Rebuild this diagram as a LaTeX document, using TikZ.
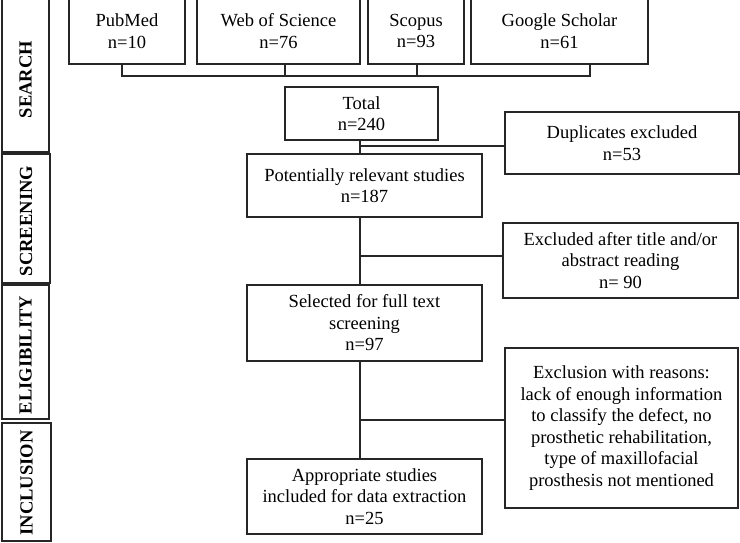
\documentclass[tikz,border=0pt]{standalone}
\usepackage{fontspec}
\setmainfont{Liberation Serif}
\begin{document}
\begin{tikzpicture}[x=1pt,y=-1pt,
  box/.style={draw=black!85,line width=1.5pt,rectangle,inner sep=0pt,align=center,
    font=\fontsize{18.5}{21.5}\selectfont},
  side/.style={draw=black!85,line width=1.5pt,rectangle,inner sep=0pt},
  sidelabel/.style={rotate=90,font=\fontsize{18.5}{20}\selectfont\bfseries,inner sep=0pt},
  conn/.style={draw=black!85,line width=1.5pt}]
\useasboundingbox (0,0) rectangle (740,542);
\clip (0,0) rectangle (740,542);
% side column
\node[side,minimum width=47pt,minimum height=160pt] (s1) at (25.5,72) {};
\node[sidelabel] (l1) at (25.5,79.5) {SEARCH};
\node[side,minimum width=48pt,minimum height=129pt] (s2) at (26,218.5) {};
\node[sidelabel] (l2) at (26,221) {SCREENING};
\node[side,minimum width=47pt,minimum height=134pt] (s3) at (25.5,352) {};
\node[sidelabel] (l3) at (25.5,355) {ELIGIBILITY};
\node[side,minimum width=49pt,minimum height=118pt] (s4) at (26.5,482) {};
\node[sidelabel] (l4) at (26.5,483) {INCLUSION};
% sources
\node[box,minimum width=116pt,minimum height=66pt] (pub) at (127,31) {PubMed\\n=10};
\node[box,minimum width=163pt,minimum height=66pt] (wos) at (278.5,31) {Web of Science\\n=76};
\node[box,minimum width=96pt,minimum height=66pt] (sco) at (416,31) {Scopus\\n=93};
\node[box,minimum width=177pt,minimum height=66pt] (gs) at (559.5,31) {Google Scholar\\n=61};
\coordinate (busL) at (122,76);
\coordinate (busR) at (590,76);
\draw[conn] (busL |- pub.south) -- (busL) -- (busR) -- (busR |- gs.south);
\draw[conn] (285,64) coordinate (wd) -- (wd |- busL);
\draw[conn] (417,64) coordinate (sd) -- (sd |- busL);
% main flow
\node[box,minimum width=153pt,minimum height=53pt] (tot) at (361.5,113.5) {Total\\n=240};
\node[box,minimum width=234pt,minimum height=62pt] (dup) at (622,143) {Duplicates excluded\\n=53};
\node[box,minimum width=235pt,minimum height=63pt] (pot) at (364.5,185.5) {Potentially relevant studies\\n=187};
\node[box,minimum width=235pt,minimum height=75pt] (exc) at (620.5,260.5) {Excluded after title and/or\\abstract reading\\n= 90};
\node[box,minimum width=235pt,minimum height=76pt] (sel) at (364.5,323) {Selected for full text\\screening\\n=97};
\node[box,minimum width=233pt,minimum height=160pt] (rea) at (621.5,428) {Exclusion with reasons:\\lack of enough information\\to classify the defect, no\\prosthetic rehabilitation,\\type of maxillofacial\\prosthesis not mentioned};
\node[box,minimum width=235pt,minimum height=75pt] (app) at (364.5,496.5) {Appropriate studies\\included for data extraction\\n=25};
\coordinate (v) at (360,0);
\draw[conn] (v |- tot.south) -- (v |- pot.north);
\draw[conn] (v |- pot.south) -- (v |- sel.north);
\draw[conn] (v |- sel.south) -- (v |- app.north);
\coordinate (b1) at (360,146);
\coordinate (b2) at (360,256);
\coordinate (b3) at (360,420);
\draw[conn] (b1) -- (b1 -| dup.west);
\draw[conn] (b2) -- (b2 -| exc.west);
\draw[conn] (b3) -- (b3 -| rea.west);
\end{tikzpicture}
\end{document}
